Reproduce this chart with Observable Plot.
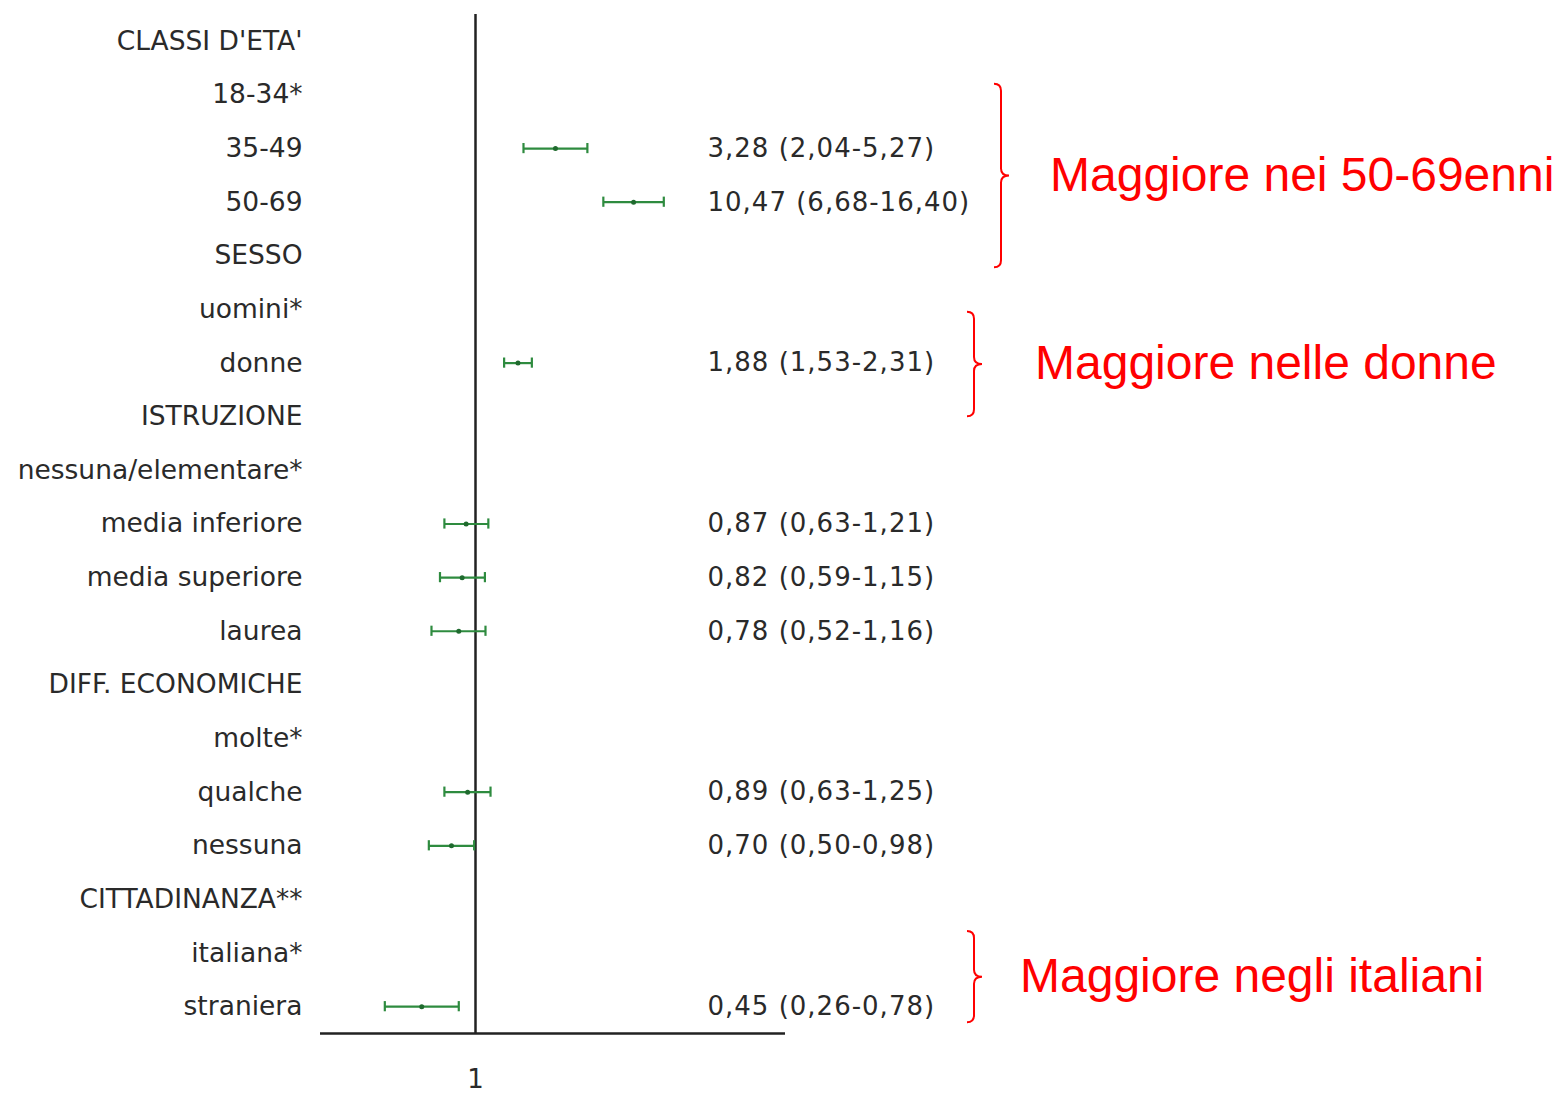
<!DOCTYPE html>
<html>
<head>
<meta charset="utf-8">
<script src="https://cdn.jsdelivr.net/npm/d3@7"></script>
<script src="https://cdn.jsdelivr.net/npm/@observablehq/plot@0.6"></script>
<style>
  html, body { margin: 0; padding: 0; background: #fff; }
  #chart svg { display: block; }
</style>
</head>
<body>
<div id="chart"></div>
<script>
// ---- data ----
const rows = ["CLASSI D'ETA'", "18-34*", "35-49", "50-69", "SESSO", "uomini*", "donne",
  "ISTRUZIONE", "nessuna/elementare*", "media inferiore", "media superiore", "laurea",
  "DIFF. ECONOMICHE", "molte*", "qualche", "nessuna", "CITTADINANZA**", "italiana*", "straniera"];
const oddsRatio = [null, null, 3.28, 10.47, null, null, 1.88, null, null, 0.87, 0.82, 0.78, null, null, 0.89, 0.70, null, null, 0.45];
const ciLow     = [null, null, 2.04, 6.68, null, null, 1.53, null, null, 0.63, 0.59, 0.52, null, null, 0.63, 0.50, null, null, 0.26];
const ciHigh    = [null, null, 5.27, 16.40, null, null, 2.31, null, null, 1.21, 1.15, 1.16, null, null, 1.25, 0.98, null, null, 0.78];
const xTicks = [1];
const annotationText = ["Maggiore nei 50-69enni", "Maggiore nelle donne", "Maggiore negli italiani"];
const annotationFrom = ["18-34*", "uomini*", "italiana*"];
const annotationTo   = ["SESSO", "ISTRUZIONE", "straniera"];

// ---- build table ----
const fmt = v => v.toFixed(2).replace(".", ",");
const data = rows.map((r, i) => ({i, label: r, or: oddsRatio[i], lo: ciLow[i], hi: ciHigh[i]}))
  .filter(d => d.or != null)
  .map(d => ({...d, text: `${fmt(d.or)} (${fmt(d.lo)}-${fmt(d.hi)})`}));

// ---- layout (styles/positions) ----
const W = 1566, H = 1094;
const M = {top: 14, right: 781, bottom: 61, left: 320};
const green = "#2e8b3f";
const annoLayout = [
  {extTop: 0.2, extBottom: 0.22, stemX: 1001, textX: 1050},
  {extTop: -0.05, extBottom: 0.0, stemX: 974, textX: 1035},
  {extTop: 0.4, extBottom: 0.3, stemX: 974, textX: 1020}
];

function braces(index, scales, values, dimensions) {
  const g = d3.create("svg:g");
  const ys = scales && scales.y ? scales.y : (v => M.top + (v + 0.5) * (H - M.top - M.bottom) / rows.length);
  const step = Math.abs(ys(1) - ys(0));
  annotationText.forEach((t, k) => {
    const L = annoLayout[k];
    const top = ys(rows.indexOf(annotationFrom[k])) - L.extTop * step;
    const bot = ys(rows.indexOf(annotationTo[k])) + L.extBottom * step;
    const mid = (top + bot) / 2;
    const s = L.stemX, r = 7;
    const p = `M${s - 7},${top} Q${s},${top} ${s},${top + r} L${s},${mid - r} Q${s},${mid} ${s + 8},${mid} Q${s},${mid} ${s},${mid + r} L${s},${bot - r} Q${s},${bot} ${s - 7},${bot}`;
    g.append("path").attr("d", p).attr("fill", "none").attr("stroke", "#ff0000").attr("stroke-width", 2);
    g.append("text").attr("x", L.textX).attr("y", mid).attr("dy", "0.32em")
      .attr("text-anchor", "start")
      .attr("fill", "#ff0000").attr("font-family", "'Liberation Sans', Arial, sans-serif")
      .attr("font-size", 48).text(t);
  });
  return g.node();
}

const chart = Plot.plot({
  width: W, height: H,
  marginTop: M.top, marginRight: M.right, marginBottom: M.bottom, marginLeft: M.left,
  style: {fontFamily: "'DejaVu Sans', sans-serif", fontSize: "26px", color: "#2a2a2a", background: "#fff"},
  x: {type: "log", domain: [0.1, 100]},
  y: {domain: [-0.5, rows.length - 0.5], reverse: true},
  marks: [
    Plot.axisY({ticks: d3.range(rows.length), tickFormat: i => rows[i], tickSize: 0, tickPadding: 18, label: null, fontSize: 26.5}),
    Plot.axisX({ticks: xTicks, tickFormat: d => String(d), tickSize: 0, tickPadding: 36, label: null, fontSize: 26}),
    Plot.ruleX([1], {stroke: "#222", strokeWidth: 2.5}),
    Plot.ruleY([rows.length - 0.5], {stroke: "#222", strokeWidth: 2.5}),
    Plot.link(data, {x1: "lo", x2: "hi", y1: "i", y2: "i", stroke: green, strokeWidth: 2.2}),
    Plot.ruleX(data, {x: "lo", y1: d => d.i - 0.095, y2: d => d.i + 0.095, stroke: green, strokeWidth: 2.2}),
    Plot.ruleX(data, {x: "hi", y1: d => d.i - 0.095, y2: d => d.i + 0.095, stroke: green, strokeWidth: 2.2}),
    Plot.dot(data, {x: "or", y: "i", r: 2.5, fill: "#1f6a2e", stroke: "none"}),
    Plot.text(data, {y: "i", text: "text", frameAnchor: "right", dx: -78, textAnchor: "start", fontSize: 26, fill: "#2a2a2a"}),
    braces
  ]
});
// widen the value labels' tracking to match the reference typeface
chart.querySelectorAll('g[aria-label="text"] text').forEach(t => t.style.letterSpacing = "1px");
document.getElementById("chart").appendChild(chart);
</script>
</body>
</html>
